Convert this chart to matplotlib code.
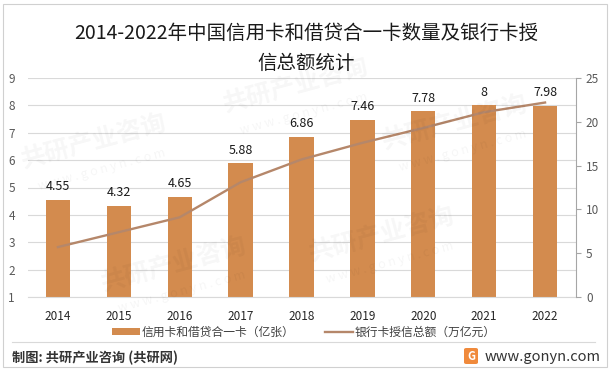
import matplotlib
matplotlib.use("Agg")
import matplotlib.pyplot as plt
from matplotlib.patches import Rectangle, FancyBboxPatch, Patch
from matplotlib.lines import Line2D
import numpy as np

plt.rcParams['font.family'] = ['Noto Sans CJK SC', 'DejaVu Sans']

### data
years = ['2014', '2015', '2016', '2017', '2018', '2019', '2020', '2021', '2022']
cards = [4.55, 4.32, 4.65, 5.88, 6.86, 7.46, 7.78, 8, 7.98]          # 亿张
credit = [5.7, 7.4, 9.1, 13.1, 15.7, 17.6, 19.3, 21.1, 22.2]         # 万亿元

title1 = "2014-2022年中国信用卡和借贷合一卡数量及银行卡授"
title2 = "信总额统计"
bar_name = "信用卡和借贷合一卡（亿张）"
line_name = "银行卡授信总额（万亿元）"

bar_color = '#D38B4E'
line_color = '#B5876A'
grid_color = '#D9D9D9'

W, H = 612, 372
fig = plt.figure(figsize=(W / 100, H / 100), dpi=100)

# page border and faint watermarks
fig.patches.append(Rectangle((3 / W, 1 - 367 / H), 604 / W, 363 / H, transform=fig.transFigure,
                             fill=False, edgecolor='#D0D0D0', lw=0.8))
for wx, wy in [(0.03, 0.55), (0.36, 0.70), (0.62, 0.60), (0.16, 0.22), (0.50, 0.30)]:
   fig.text(wx, wy, "共研产业咨询", fontsize=18, fontweight='bold', color='black', alpha=0.035, rotation=15)
   fig.text(wx + 0.03, wy - 0.06, "w w w . g o n y n . c o m", fontsize=9, color='black', alpha=0.04, rotation=15)

ax = fig.add_axes([27.5 / W, 1 - 297 / H, 548 / W, 219 / H])
x = np.arange(len(years))

ax.bar(x, cards, width=0.4, color=bar_color, zorder=2)
for i, v in enumerate(cards):
   ax.annotate(f"{v:g}", (x[i], v), xytext=(0, 9.5), textcoords='offset points',
               ha='center', va='center', fontsize=9, color='#1a1a1a')

ax.set_xlim(-0.5, len(years) - 0.5)
ax.set_ylim(1, 9)
ax.set_yticks(range(1, 10))
ax.set_xticks(x)
ax.set_xticklabels(years)
ax.grid(axis='y', color=grid_color, lw=0.8, zorder=0)
for s in ['left', 'top', 'right']:
   ax.spines[s].set_visible(False)
ax.spines['bottom'].set_color(grid_color)
ax.tick_params(axis='y', length=0, pad=9, labelsize=8.5, labelcolor='#595959')
ax.tick_params(axis='x', length=0, pad=9, labelsize=8.5, labelcolor='#262626')

ax2 = ax.twinx()
ax2.plot(x, credit, color=line_color, lw=1.7, zorder=3)
ax2.set_ylim(0, 25)
ax2.set_yticks(range(0, 26, 5))
for s in ['left', 'top', 'bottom']:
   ax2.spines[s].set_visible(False)
ax2.spines['right'].set_color('#A6A6A6')
ax2.tick_params(axis='y', direction='out', length=3.5, color='#A6A6A6', pad=4,
                labelsize=8.5, labelcolor='#595959')

# title
fig.text(0.5, 1 - 33 / H, title1, ha='center', va='center', fontsize=14, color='#1a1a1a')
fig.text(0.5, 1 - 63 / H, title2, ha='center', va='center', fontsize=14, color='#1a1a1a')

# legend
handles = [Patch(facecolor=bar_color, label=bar_name),
           Line2D([0], [0], color=line_color, lw=1.7, label=line_name)]
fig.legend(handles=handles, loc='center', bbox_to_anchor=(0.497, 1 - 332 / H), ncol=2,
           frameon=False, fontsize=8.5, handlelength=2.3, handleheight=0.6,
           handletextpad=0.2, columnspacing=2.6, labelcolor='#404040')

# footer
fig.lines.append(Line2D([12 / W, 595 / W], [1 - 342 / H, 1 - 342 / H], transform=fig.transFigure,
                        color=grid_color, lw=0.8))
fig.text(12.5 / W, 1 - 358 / H, "制图: 共研产业咨询 (共研网)", ha='left', va='center',
         fontsize=9.5, fontweight='bold', color='#333333')
fig.patches.append(FancyBboxPatch((464 / W, 1 - 364 / H), 14 / W, 16 / H, transform=fig.transFigure,
                                  boxstyle='round,pad=0,rounding_size=0.004', facecolor='#F08A3C', edgecolor='none'))
fig.text(471 / W, 1 - 356 / H, "G", ha='center', va='center', fontsize=8, fontweight='bold', color='white')
fig.text(485 / W, 1 - 357 / H, "www.gonyn.com", ha='left', va='center', fontsize=10.5, color='#333333')

fig.savefig("out.png", dpi=100)
